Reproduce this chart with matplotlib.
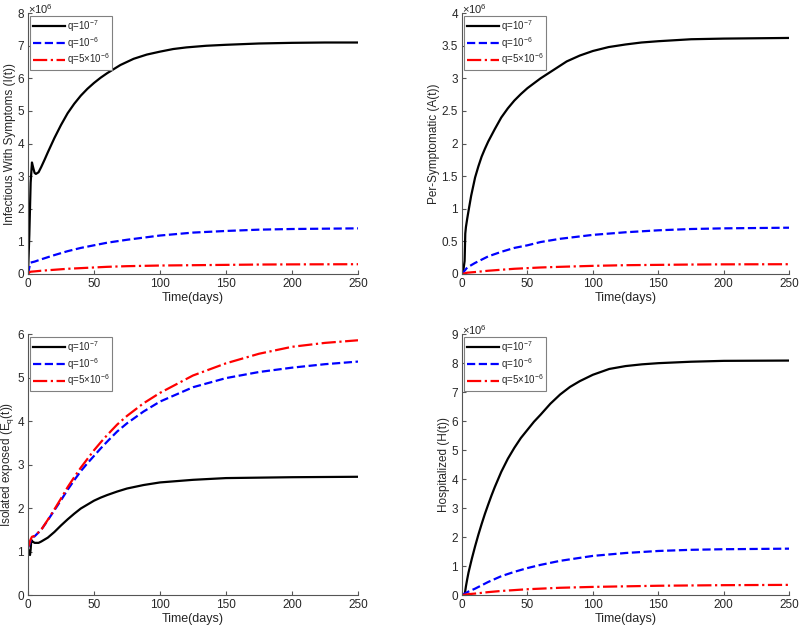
import numpy as np
import matplotlib.pyplot as plt

plt.rcParams['font.family'] = ['Liberation Sans', 'DejaVu Sans']
plt.rcParams['mathtext.fontset'] = 'custom'
plt.rcParams['mathtext.rm'] = 'Liberation Sans'
plt.rcParams['mathtext.it'] = 'Liberation Sans'

labels = [r'q=10$^{-7}$', r'q=10$^{-6}$', r'q=5$\times$10$^{-6}$']

# Infectious with symptoms I(t), x10^6
t_I_k = [0, 1, 2, 3, 4, 5, 6, 8, 10, 12.5, 15, 17.5, 20, 25, 30, 35, 40, 45, 50,
         55, 60, 70, 80, 90, 100, 110, 120, 135, 150, 175, 200, 225, 250]
I_k = [0, 1.2, 2.8, 3.42, 3.25, 3.1, 3.07, 3.12, 3.28, 3.5, 3.73, 3.95, 4.17,
       4.57, 4.93, 5.22, 5.47, 5.68, 5.86, 6.02, 6.16, 6.41, 6.6, 6.73, 6.82,
       6.9, 6.95, 7.0, 7.03, 7.07, 7.09, 7.1, 7.1]
t_I = [0, 1, 2, 5, 10, 20, 30, 40, 50, 60, 75, 100, 125, 150, 175, 200, 250]
I_b = [0, 0.2, 0.35, 0.38, 0.45, 0.58, 0.7, 0.8, 0.88, 0.96, 1.05, 1.18, 1.27,
       1.32, 1.36, 1.38, 1.4]
I_r = [0, 0.05, 0.07, 0.08, 0.1, 0.13, 0.16, 0.18, 0.2, 0.22, 0.24, 0.26, 0.27,
       0.28, 0.29, 0.295, 0.3]

# Pre-symptomatic A(t), x10^6
t_A_k = [0, 1, 2, 2.5, 3, 4, 5, 7, 10, 12.5, 15, 17.5, 20, 25, 30, 35, 40, 45,
         50, 60, 70, 80, 90, 100, 112, 125, 137, 150, 175, 200, 250]
A_k = [0, 0.05, 0.2, 0.62, 0.72, 0.85, 0.97, 1.2, 1.48, 1.65, 1.8, 1.92, 2.03,
       2.22, 2.4, 2.54, 2.66, 2.76, 2.85, 3.0, 3.13, 3.26, 3.35, 3.42, 3.48,
       3.52, 3.55, 3.57, 3.6, 3.61, 3.62]
t_A = [0, 2, 4, 10, 20, 30, 40, 50, 60, 75, 100, 125, 150, 175, 200, 250]
A_b = [0, 0.05, 0.1, 0.17, 0.27, 0.34, 0.4, 0.44, 0.49, 0.54, 0.6, 0.64, 0.67,
       0.69, 0.7, 0.71]
A_r = [0, 0.01, 0.02, 0.03, 0.05, 0.065, 0.08, 0.09, 0.1, 0.11, 0.125, 0.135,
       0.14, 0.145, 0.148, 0.15]

# Isolated exposed Eq(t)
t_E_k = [0, 1, 1.5, 2, 2.5, 3, 5, 8, 10, 15, 20, 25, 30, 35, 40, 45, 50, 55, 60,
         67.5, 75, 87.5, 100, 125, 150, 200, 250]
E_k = [1.05, 1.0, 0.92, 1.05, 1.27, 1.24, 1.2, 1.2, 1.23, 1.32, 1.45, 1.6, 1.74,
       1.87, 1.99, 2.08, 2.17, 2.24, 2.3, 2.38, 2.45, 2.53, 2.59, 2.65, 2.69,
       2.71, 2.72]
t_E = [0, 1, 2, 3, 5, 10, 15, 20, 25, 30, 35, 40, 45, 50, 55, 60, 67.5, 75, 87.5,
       100, 125, 150, 175, 200, 225, 250]
E_b = [1.1, 1.15, 1.25, 1.32, 1.35, 1.5, 1.72, 1.95, 2.18, 2.42, 2.64, 2.85,
       3.03, 3.2, 3.37, 3.53, 3.76, 3.95, 4.22, 4.45, 4.78, 4.99, 5.13, 5.23,
       5.31, 5.37]
E_r = [1.1, 1.18, 1.28, 1.34, 1.36, 1.5, 1.73, 1.97, 2.22, 2.48, 2.71, 2.93,
       3.13, 3.33, 3.51, 3.68, 3.92, 4.12, 4.41, 4.65, 5.05, 5.33, 5.55, 5.71,
       5.8, 5.86]

# Hospitalized H(t), x10^6
t_H_k = [0, 2, 3, 4, 5, 7.5, 10, 12.5, 15, 17.5, 20, 22.5, 25, 30, 35, 40, 45,
         50, 55, 60, 67.5, 75, 82.5, 90, 100, 112.5, 125, 137.5, 150, 175, 200, 250]
H_k = [0, 0.0, 0.3, 0.55, 0.78, 1.25, 1.68, 2.08, 2.45, 2.8, 3.12, 3.43, 3.72,
       4.25, 4.7, 5.08, 5.42, 5.7, 5.98, 6.22, 6.6, 6.92, 7.18, 7.38, 7.6, 7.8,
       7.9, 7.96, 8.0, 8.05, 8.08, 8.09]
t_H = [0, 2, 5, 10, 20, 30, 40, 50, 60, 75, 100, 125, 150, 175, 200, 250]
H_b = [0, 0.05, 0.12, 0.22, 0.45, 0.65, 0.8, 0.93, 1.04, 1.18, 1.35, 1.45, 1.52,
       1.56, 1.58, 1.6]
H_r = [0, 0.01, 0.03, 0.05, 0.1, 0.14, 0.17, 0.2, 0.22, 0.25, 0.28, 0.3, 0.32,
       0.33, 0.34, 0.35]

panels = [
    dict(pos=[0.035, 0.563, 0.4125, 0.416], series=[(t_I_k, I_k), (t_I, I_b), (t_I, I_r)],
         ylim=(0, 8), yticks=np.arange(0, 9, 1), ylabel='Infectious With Symptoms (I(t))',
         sci=True),
    dict(pos=[0.5775, 0.563, 0.409, 0.416], series=[(t_A_k, A_k), (t_A, A_b), (t_A, A_r)],
         ylim=(0, 4), yticks=np.arange(0, 4.01, 0.5), ylabel='Per-Symptomatic (A(t))',
         sci=True),
    dict(pos=[0.035, 0.051, 0.4125, 0.416], series=[(t_E_k, E_k), (t_E, E_b), (t_E, E_r)],
         ylim=(0, 6), yticks=np.arange(0, 7, 1), ylabel=r'Isolated exposed (E$_q$(t))',
         sci=False),
    dict(pos=[0.5775, 0.051, 0.409, 0.416], series=[(t_H_k, H_k), (t_H, H_b), (t_H, H_r)],
         ylim=(0, 9), yticks=np.arange(0, 10, 1), ylabel='Hospitalized (H(t))',
         sci=True),
]

styles = [dict(color='black', ls='-'), dict(color='#0000ff', ls='--'),
          dict(color='#ff0000', ls='-.')]
txtc = '#262626'

fig = plt.figure(figsize=(8, 6.27), dpi=100)
for p in panels:
    ax = fig.add_axes(p['pos'])
    for (t, v), st, lab in zip(p['series'], styles, labels):
        ax.plot(t, v, lw=1.6, label=lab, **st)
    ax.set_xlim(0, 250)
    ax.set_ylim(*p['ylim'])
    ax.set_xticks(np.arange(0, 251, 50))
    ax.set_yticks(p['yticks'])
    ax.set_yticklabels(['%g' % y for y in p['yticks']])
    ax.spines['top'].set_visible(False)
    ax.spines['right'].set_visible(False)
    for s in ['left', 'bottom']:
        ax.spines[s].set_color('#555555')
        ax.spines[s].set_linewidth(0.8)
    ax.tick_params(direction='in', length=3, width=0.8, colors='#555555',
                   labelcolor=txtc, labelsize=8.5, pad=3)
    ax.set_xlabel('Time(days)', fontsize=9, color=txtc, labelpad=1)
    ax.set_ylabel(p['ylabel'], fontsize=8.5, color=txtc, labelpad=1)
    if p['sci']:
        ax.text(0.0, 0.99, r'$\times$10$^{6}$', transform=ax.transAxes,
                fontsize=8, color=txtc, ha='left', va='bottom')
    leg = ax.legend(loc='upper left', fontsize=7, handlelength=3.3,
                    handletextpad=0.2, labelspacing=0.1, borderaxespad=0.25,
                    borderpad=0.25, fancybox=False, framealpha=1)
    leg.get_frame().set_edgecolor('#808080')
    leg.get_frame().set_linewidth(0.8)
    for txt in leg.get_texts():
        txt.set_color(txtc)

fig.savefig('out.png', dpi=100)
